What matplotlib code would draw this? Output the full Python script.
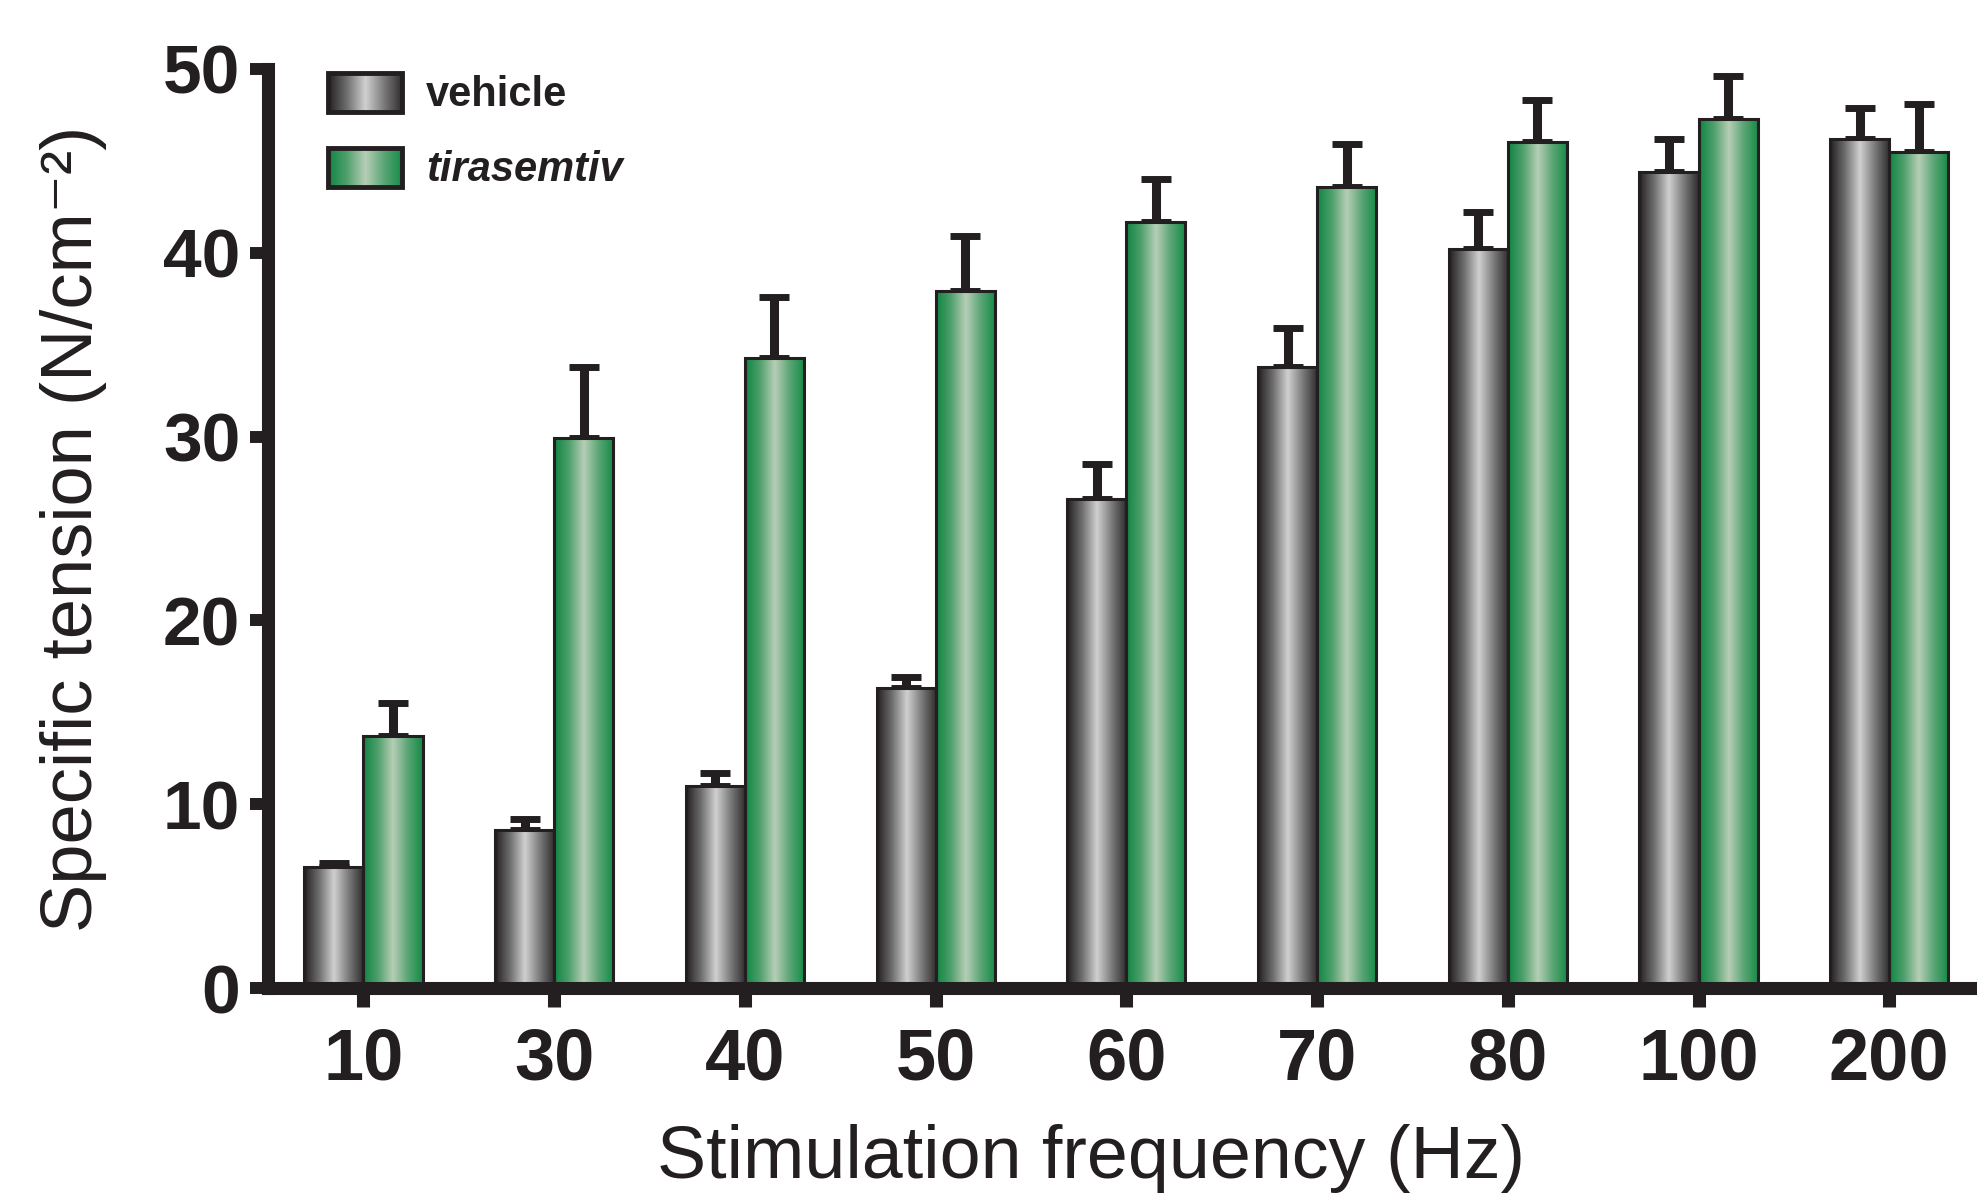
import matplotlib
matplotlib.use("Agg")
import matplotlib.pyplot as plt
import numpy as np
from matplotlib.colors import LinearSegmentedColormap
from matplotlib.legend_handler import HandlerBase
from matplotlib.image import BboxImage
from matplotlib.transforms import Bbox, TransformedBbox
from matplotlib.patches import Rectangle

# data
freqs = ["10", "30", "40", "50", "60", "70", "80", "100", "200"]
vehicle = [6.6, 8.6, 11.0, 16.3, 26.6, 33.8, 40.2, 44.4, 46.2]
vehicle_top = [6.8, 9.2, 11.7, 16.9, 28.5, 35.9, 42.2, 46.2, 47.9]
tirasemtiv = [13.7, 29.9, 34.3, 37.9, 41.7, 43.6, 46.0, 47.3, 45.5]
tirasemtiv_top = [15.5, 33.8, 37.6, 40.9, 44.0, 45.9, 48.3, 49.6, 48.1]

ink = "#231f20"
plt.rcParams["font.family"] = ["Liberation Sans", "DejaVu Sans"]
plt.rcParams["text.color"] = ink

grey_cmap = LinearSegmentedColormap.from_list(
    "grey", ["#231f20", "#6e6e6e", "#d0d0d0", "#7a7a7a", "#2e2a2b"])
green_cmap = LinearSegmentedColormap.from_list(
    "green", ["#0e8442", "#4fa06c", "#b6ceb6", "#5aa575", "#128a45"])
grad = np.linspace(0, 1, 256).reshape(1, -1)


class GradHandler(HandlerBase):
    def __init__(self, cmap):
        super().__init__()
        self.cmap = cmap

    def create_artists(self, legend, orig_handle, xdescent, ydescent,
                       width, height, fontsize, trans):
        bb = Bbox.from_bounds(-xdescent, -ydescent, width, height)
        img = BboxImage(TransformedBbox(bb, trans), cmap=self.cmap,
                        interpolation="bilinear")
        img.set_data(grad)
        rect = Rectangle((-xdescent, -ydescent), width, height,
                         facecolor="none", edgecolor=ink, lw=3.5,
                         transform=trans)
        return [img, rect]


fig = plt.figure(figsize=(19.77, 11.95), dpi=100)
ax = fig.add_axes([0.1356, 0.1732, 0.8644, 0.7691])

x = np.arange(len(freqs))
w = 0.31
err_v = np.array(vehicle_top) - np.array(vehicle)
err_t = np.array(tirasemtiv_top) - np.array(tirasemtiv)

ekw = dict(fmt="none", ecolor=ink, elinewidth=6.5, capsize=10.5,
           capthick=5, zorder=1)
ax.errorbar(x - w / 2, vehicle, yerr=[np.zeros(len(x)), err_v], **ekw)
ax.errorbar(x + w / 2, tirasemtiv, yerr=[np.zeros(len(x)), err_t], **ekw)

bv = ax.bar(x - w / 2, vehicle, w, facecolor="none", edgecolor=ink,
            lw=2.2, zorder=3)
bt = ax.bar(x + w / 2, tirasemtiv, w, facecolor="none", edgecolor=ink,
            lw=2.2, zorder=3)
for bars, cmap in [(bv, grey_cmap), (bt, green_cmap)]:
    for p in bars:
        ax.imshow(grad, cmap=cmap, aspect="auto", interpolation="bilinear",
                  extent=[p.get_x(), p.get_x() + p.get_width(), 0,
                          p.get_height()], zorder=2)

ax.set_xlim(-0.5, 8.46)
ax.set_ylim(0, 50)
ax.set_aspect("auto")

for s in ["top", "right"]:
    ax.spines[s].set_visible(False)
for s in ["left", "bottom"]:
    ax.spines[s].set_linewidth(9.4)
    ax.spines[s].set_color(ink)
    ax.spines[s].set_capstyle("projecting")

ax.set_yticks([0, 10, 20, 30, 40, 50])
ax.set_xticks(x)
ax.set_xticklabels(freqs)
ax.tick_params(axis="y", length=13, width=8.6, color=ink, pad=7,
               labelsize=50, labelcolor=ink)
ax.tick_params(axis="x", length=14, width=9.4, color=ink, pad=14,
               labelsize=52, labelcolor=ink)
for lab in ax.get_xticklabels() + ax.get_yticklabels():
    lab.set_fontweight("bold")

ax.set_ylabel("Specific tension (N/cm\u207b\u00b2)", fontsize=52,
              color=ink, labelpad=40)
ax.set_xlabel("Stimulation frequency (Hz)", fontsize=53, color=ink)
ax.xaxis.set_label_coords(0.4816, -0.148)

leg = ax.legend([bv, bt], ["vehicle", "tirasemtiv"],
                handler_map={bv: GradHandler(grey_cmap),
                             bt: GradHandler(green_cmap)},
                loc="upper left", bbox_to_anchor=(0.035, 0.996),
                frameon=False, fontsize=30, handlelength=1.78,
                handleheight=1.07, handletextpad=0.58, labelspacing=0.77,
                borderpad=0, borderaxespad=0)
for t in leg.get_texts():
    t.set_fontweight("bold")
    t.set_color(ink)
leg.get_texts()[1].set_style("italic")

plt.savefig("out.png", dpi=100)
